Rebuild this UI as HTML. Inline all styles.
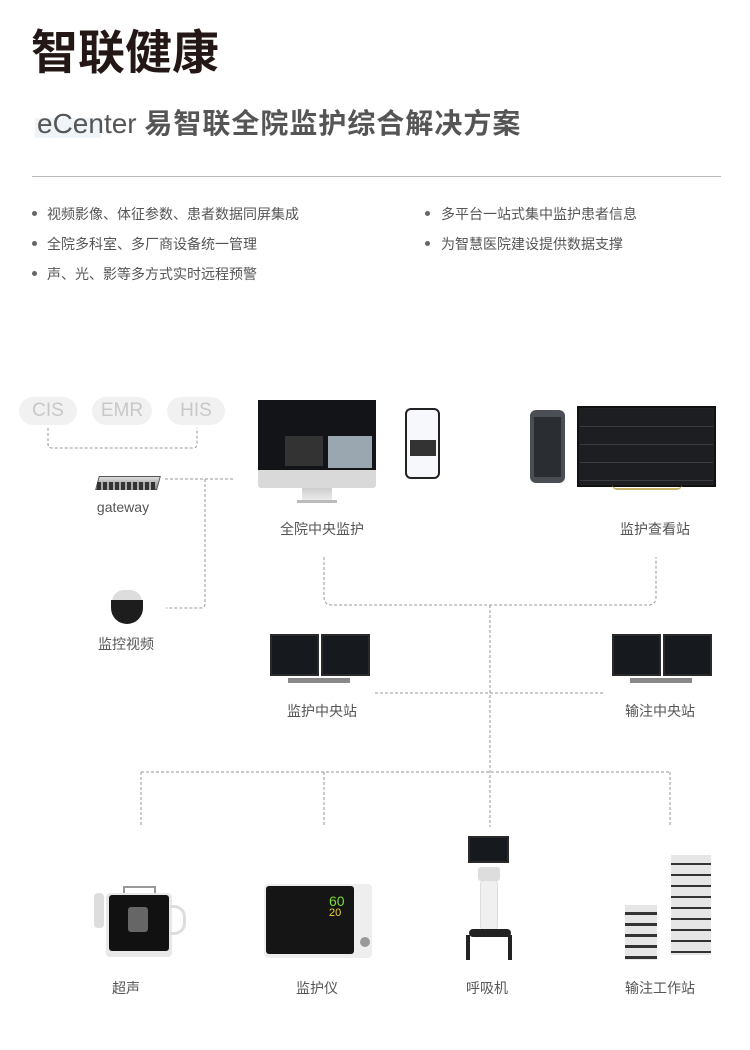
<!DOCTYPE html>
<html><head><meta charset="utf-8"><style>
*{margin:0;padding:0;box-sizing:border-box}
body{width:750px;height:1050px;background:#fff;position:relative;overflow:hidden;font-family:"Liberation Sans","Noto Sans CJK SC",sans-serif}
.a{position:absolute}
.t{position:absolute;white-space:nowrap;color:#555;font-size:14px;line-height:16px}
.c{transform:translateX(-50%)}
.pill{position:absolute;top:397px;height:28px;border-radius:14px;background:#f1f1f1;color:#c8c8c8;font-size:19px;line-height:28px;text-align:center;font-family:"Liberation Sans",sans-serif}
.dot{position:absolute;width:5px;height:5px;border-radius:50%;background:#666}
.scr{position:absolute;background:#161a1f;border:2px solid #2a2a2a}
</style></head><body>
<div class="t" style="left:31px;top:27px;font-size:47px;line-height:52px;font-weight:bold;color:#231815">智联健康</div>
<div class="a" style="left:35px;top:118px;width:66px;height:20px;background:#eef4f8"></div>
<div class="t" style="left:37px;top:108px;font-size:28px;line-height:32px;color:#555"><span style="font-weight:normal">eCenter</span> <b style="letter-spacing:1px">易智联全院监护综合解决方案</b></div>
<div class="a" style="left:32px;top:176px;width:689px;height:1px;background:#bbb"></div>
<div class="dot" style="left:32px;top:211px"></div><div class="t" style="left:47px;top:206px">视频影像、体征参数、患者数据同屏集成</div>
<div class="dot" style="left:32px;top:241px"></div><div class="t" style="left:47px;top:236px">全院多科室、多厂商设备统一管理</div>
<div class="dot" style="left:32px;top:271px"></div><div class="t" style="left:47px;top:266px">声、光、影等多方式实时远程预警</div>
<div class="dot" style="left:425px;top:211px"></div><div class="t" style="left:441px;top:206px">多平台一站式集中监护患者信息</div>
<div class="dot" style="left:425px;top:241px"></div><div class="t" style="left:441px;top:236px">为智慧医院建设提供数据支撑</div>

<div class="pill" style="left:19px;width:58px">CIS</div>
<div class="pill" style="left:92px;width:60px">EMR</div>
<div class="pill" style="left:167px;width:58px">HIS</div>

<svg class="a" style="left:0;top:0" width="750" height="1050">
<g fill="none" stroke="#9a9a9a" stroke-width="1" stroke-dasharray="3,2">
<path d="M48 428 V444 Q48 448 52 448 H193 Q197 448 197 444 V428"/>
<path d="M165 479 H235"/>
<path d="M205 479 V604 Q205 608 201 608 H166"/>
<path d="M324 557 V597 Q324 605 332 605 H648 Q656 605 656 597 V557"/>
<path d="M490 605 V827"/>
<path d="M375 693 H605"/>
<path d="M141 772 H670 M141 772 V826 M324 772 V826 M670 772 V826"/>
</g>
</svg>

<div class="a" style="left:97px;top:476px;width:62px;height:14px;background:linear-gradient(#ddd,#888);border:1px solid #555;transform:skewX(-15deg)"></div>
<div class="a" style="left:97px;top:482px;width:58px;height:8px;background:repeating-linear-gradient(90deg,#333 0 4px,#aaa 4px 6px)"></div>
<div class="t c" style="left:123px;top:499px;font-size:14px">gateway</div>

<div class="a" style="left:112px;top:590px;width:30px;height:12px;border-radius:15px 15px 0 0;background:#ddd"></div>
<div class="a" style="left:111px;top:600px;width:32px;height:24px;border-radius:0 0 16px 16px;background:#1d1d1d"></div>
<div class="t c" style="left:126px;top:636px">监控视频</div>

<div class="a" style="left:258px;top:400px;width:118px;height:88px;background:#d9d9d9;border-radius:3px"></div>
<div class="scr" style="left:258px;top:400px;width:118px;height:70px;border:none;background:#121418"></div>
<div class="a" style="left:328px;top:436px;width:44px;height:32px;background:#9aa7b0"></div>
<div class="a" style="left:285px;top:436px;width:38px;height:30px;background:#333"></div>
<div class="a" style="left:302px;top:488px;width:30px;height:13px;background:linear-gradient(#ccc,#eee)"></div>
<div class="a" style="left:297px;top:500px;width:40px;height:3px;background:#bbb"></div>
<div class="a" style="left:405px;top:408px;width:35px;height:71px;border:2px solid #222;border-radius:6px;background:#f6f8fb"></div>
<div class="a" style="left:410px;top:440px;width:26px;height:16px;background:#333"></div>
<div class="t c" style="left:322px;top:521px">全院中央监护</div>

<div class="a" style="left:530px;top:410px;width:35px;height:73px;border-radius:6px;background:#4b4f55"></div>
<div class="a" style="left:534px;top:417px;width:27px;height:60px;background:#2a2d31"></div>
<div class="a" style="left:577px;top:406px;width:139px;height:81px;background:#222;border:2px solid #111"></div>
<div class="a" style="left:580px;top:409px;width:133px;height:75px;background:repeating-linear-gradient(#1c1e22 0 17px,#3a3c40 17px 18px)"></div>
<div class="a" style="left:612px;top:485px;width:70px;height:5px;border-bottom:2px solid #c8b46a;border-radius:0 0 40px 40px"></div>
<div class="t c" style="left:655px;top:521px">监护查看站</div>

<div class="scr" style="left:270px;top:634px;width:49px;height:42px"></div>
<div class="scr" style="left:321px;top:634px;width:49px;height:42px"></div>
<div class="a" style="left:288px;top:678px;width:62px;height:5px;background:#888"></div>
<div class="t c" style="left:322px;top:703px">监护中央站</div>
<div class="scr" style="left:612px;top:634px;width:49px;height:42px"></div>
<div class="scr" style="left:663px;top:634px;width:49px;height:42px"></div>
<div class="a" style="left:630px;top:678px;width:62px;height:5px;background:#888"></div>
<div class="t c" style="left:660px;top:703px">输注中央站</div>

<div class="a" style="left:123px;top:886px;width:33px;height:8px;border:2px solid #999;border-bottom:none"></div>
<div class="a" style="left:106px;top:893px;width:66px;height:64px;background:#e8e8e8;border-radius:4px"></div>
<div class="a" style="left:109px;top:895px;width:60px;height:56px;background:#111;border-radius:3px"></div>
<div class="a" style="left:128px;top:907px;width:20px;height:25px;background:#666;border-radius:3px"></div>
<div class="a" style="left:94px;top:893px;width:10px;height:35px;background:#ddd;border-radius:4px"></div>
<div class="a" style="left:170px;top:905px;width:16px;height:30px;border:3px solid #ddd;border-left:none;border-radius:0 12px 12px 0"></div>
<div class="t c" style="left:126px;top:980px">超声</div>
<div class="a" style="left:264px;top:884px;width:108px;height:74px;background:#eee;border-radius:4px"></div>
<div class="a" style="left:266px;top:886px;width:88px;height:68px;background:#151515;border-radius:3px"></div>
<div class="t" style="left:329px;top:893px;font-size:14px;color:#7bdc3c">60</div>
<div class="t" style="left:329px;top:905px;font-size:11px;color:#e9d23a">20</div>
<div class="a" style="left:360px;top:937px;width:10px;height:10px;border-radius:50%;background:#999"></div>
<div class="t c" style="left:317px;top:980px">监护仪</div>
<div class="scr" style="left:468px;top:836px;width:41px;height:27px"></div>
<div class="a" style="left:478px;top:867px;width:22px;height:14px;background:#ddd;border-radius:3px"></div>
<div class="a" style="left:480px;top:880px;width:18px;height:50px;background:#f0f0f0;border:1px solid #ddd;border-radius:4px"></div>
<div class="a" style="left:469px;top:929px;width:42px;height:8px;background:#222;border-radius:4px"></div>
<div class="a" style="left:466px;top:935px;width:4px;height:25px;background:#222"></div>
<div class="a" style="left:508px;top:935px;width:4px;height:25px;background:#222"></div>
<div class="t c" style="left:487px;top:980px">呼吸机</div>
<div class="a" style="left:671px;top:855px;width:40px;height:100px;background:repeating-linear-gradient(#e6e6e6 0 8px,#333 8px 10px,#e6e6e6 10px 11px)"></div>
<div class="a" style="left:625px;top:905px;width:32px;height:55px;background:repeating-linear-gradient(#e6e6e6 0 7px,#333 7px 10px,#e6e6e6 10px 11px)"></div>
<div class="t c" style="left:660px;top:980px">输注工作站</div>
</body></html>
